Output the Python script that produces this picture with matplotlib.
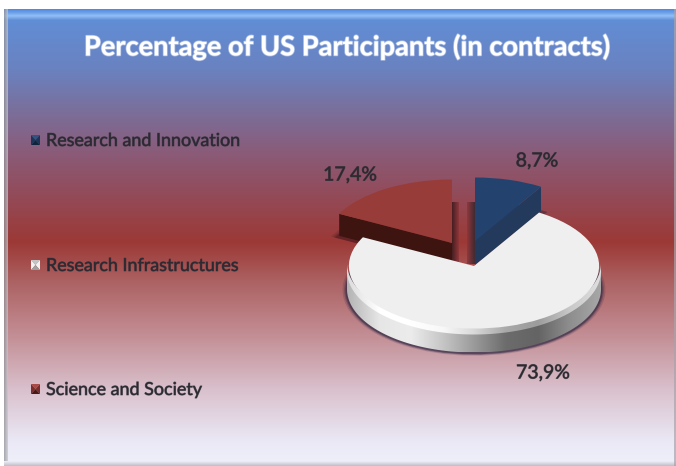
import numpy as np
import matplotlib
matplotlib.use('Agg')
import matplotlib.pyplot as plt
from matplotlib.colors import LinearSegmentedColormap
from matplotlib.patches import Polygon, Rectangle
import matplotlib.patheffects as pe

W, H = 676, 466

# chart data
title = "Percentage of US Participants (in contracts)"
categories = ["Research and Innovation", "Research Infrastructures", "Science and Society"]
values = [8.7, 73.9, 17.4]
value_labels = ["8,7%", "73,9%", "17,4%"]

plt.rcParams['font.family'] = ['Lato', 'DejaVu Sans']

fig = plt.figure(figsize=(W / 100, H / 100), dpi=100, facecolor='white')

# whole figure axes in pixels, y going down
bg = fig.add_axes([0, 0, 1, 1])
bg.set_xlim(0, W)
bg.set_ylim(H, 0)
bg.axis('off')


def vgrad(ax, extent, stops, zorder=1, clip=None, horizontal=False, alpha=None):
    cmap = LinearSegmentedColormap.from_list('g', stops)
    g = np.linspace(0, 1, 256)
    g = g.reshape(1, -1) if horizontal else g.reshape(-1, 1)
    im = ax.imshow(g, cmap=cmap, vmin=0, vmax=1, extent=extent, aspect='auto',
                   zorder=zorder, origin='upper' if not horizontal else 'lower', alpha=alpha,
                   interpolation='bilinear')
    if clip is not None:
        im.set_clip_path(clip)
    return im


# background panel
y0, y1 = 9, 466
stops = [(0, '#5f90da'), (0.13, '#6a82c0'), (0.22, '#7a6f9c'), (0.32, '#8b5a76'),
         (0.51, '#9c3936'), (0.60, '#ad6364'), (0.72, '#c49097'), (0.84, '#dac3cf'),
         (0.95, '#ebe9f6'), (1, '#eef0fa')]
vgrad(bg, (4, W, y1, y0), stops, zorder=1)
# bevel
vgrad(bg, (4, W, 20, 9), [(0, '#4f86de'), (0.35, '#6ea3ea'), (0.62, '#93c0f6'), (1, '#5f90da')], zorder=2)
vgrad(bg, (4, 8, y1, y0), ['#8f8f95', '#c9c9d0'], zorder=3, horizontal=True, alpha=0.75)
vgrad(bg, (4, W, 466, 461), ['#eef0fa', '#bdbdc6'], zorder=3)
bg.add_patch(Rectangle((674, 9), 2, 457, color='#a9a4ab', alpha=0.7, zorder=3, lw=0))

# pie axes: one data unit is one pie radius
RX, RY = 127.0, 63.5
DEPTH = 24.0
ax = fig.add_axes([0, 0, 1, 1], facecolor='none')


def to_data(px, py):
    return px / RX, (H - py) / RY


def pix(n):
    return n / RY


# top surface centre of each slice, in pixels
centers = {0: (475, 241), 1: (474, 267), 2: (452, 243)}
top_colors = ['#23436e', '#efefef', '#983c39']
angles = 90 - np.concatenate([[0], np.cumsum(values)]) * 3.6


def slice_wedge(i, center, color, radius=1.0, zorder=5, alpha=None):
    cols = [color if j == i else 'none' for j in range(len(values))]
    wedges, _ = ax.pie(values, startangle=90, counterclock=False, center=center,
                       radius=radius, colors=cols, wedgeprops={'lw': 0, 'zorder': zorder, 'alpha': alpha})
    for j, w in enumerate(wedges):
        w.set_visible(j == i)
    return wedges[i]


def edge_pt(i, center, ang):
    a = np.deg2rad(ang)
    return center[0] + np.cos(a), center[1] + np.sin(a)


# soft shadows in the gap between the two pulled slices
vgrad(bg, (452, 459, 264, 202), ['#35181c', '#8f3639'], zorder=4, horizontal=True, alpha=0.85)
vgrad(bg, (467, 475, 264, 202), ['#8f3639', '#2f2630'], zorder=4, horizontal=True, alpha=0.85)

# blue slice
c = to_data(*centers[0])
d = pix(DEPTH)
slice_wedge(0, (c[0] + 0.05, c[1] - d * 1.05), '#3a2a3a', zorder=4, alpha=0.55)
ex, ey = edge_pt(0, c, angles[1])
ax.add_patch(Polygon([c, (ex, ey), (ex, ey - d), (c[0], c[1] - d)], color='#233a5c', lw=0, zorder=5))
slice_wedge(0, (c[0], c[1] - d), '#233a5c', zorder=4.5)
slice_wedge(0, c, top_colors[0], zorder=6)

# red slice
c = to_data(*centers[2])
d = pix(DEPTH - 2)
for grow, a in [(0.05, 0.2), (0.03, 0.3), (0.015, 0.45)]:
    slice_wedge(2, (c[0] - 0.02, c[1] - d * 1.1), '#4a1a20', radius=1 + grow, zorder=4, alpha=a)
ex, ey = edge_pt(2, c, angles[2])
ax.add_patch(Polygon([c, (ex, ey), (ex, ey - d), (c[0], c[1] - d)], color='#3d1410', lw=0, zorder=5))
slice_wedge(2, c, top_colors[2], zorder=6)

# white slice: shadow, rim with a horizontal shading, bevel, top
c = to_data(*centers[1])
d = pix(DEPTH - 2)
for grow, a in [(0.035, 0.18), (0.022, 0.3), (0.012, 0.5)]:
    slice_wedge(1, (c[0], c[1] - d - pix(1)), '#2c2440', radius=1 + grow, zorder=7, alpha=a)

t = np.deg2rad(np.linspace(180, 360, 200))
ex = c[0] + np.cos(t)
ey = c[1] + np.sin(t)
band = np.r_[np.c_[ex, ey - d], np.c_[ex, ey][::-1]]
band_clip = Polygon(band, transform=ax.transData, lw=0, fc='none')
ax.add_patch(band_clip)
side = ['#b4b4b4', '#e6e6e6', '#ececec', '#c6c6c6', '#9a9a9a', '#6c6c6c', '#646464', '#8e8e8e', '#a8a8a8']
vgrad(ax, (c[0] - 1, c[0] + 1, c[1] - d - 1, c[1] + 1), side, zorder=8, clip=band_clip, horizontal=True)

b = pix(4)
bevel = np.r_[np.c_[ex, ey - b], np.c_[ex, ey + b][::-1]]
bevel_clip = Polygon(bevel, transform=ax.transData, lw=0, fc='none')
ax.add_patch(bevel_clip)
vgrad(ax, (c[0] - 1, c[0] + 1, c[1] - d - 1, c[1] + 1),
      ['#dcdcdc', '#ffffff', '#ffffff', '#f8f8f8', '#d8d8d8', '#a8a8a8', '#9c9c9c', '#c8c8c8', '#e0e0e0'],
      zorder=9, clip=bevel_clip, horizontal=True)
slice_wedge(1, (c[0], c[1] + pix(1)), top_colors[1], radius=0.985, zorder=10)

ax.set_aspect('auto')
ax.set_xlim(0, W / RX)
ax.set_ylim(0, H / RY)
ax.axis('off')

# texts and legend go on top
top = fig.add_axes([0, 0, 1, 1], facecolor='none')
top.set_xlim(0, W)
top.set_ylim(H, 0)
top.axis('off')

top.text(346.5, 47, title, color='white', fontsize=19.6, fontweight='bold', ha='center', va='center',
         path_effects=[pe.withStroke(linewidth=1.2, foreground='#e8eefa', alpha=0.5)])

soft = [pe.withStroke(linewidth=0.7, foreground='#2a2a30', alpha=0.55)]
label_pos = [(537, 161), (543, 373), (350, 175)]
for lab, (x, y) in zip(value_labels, label_pos):
    top.text(x, y, lab, color='#2a2a30', fontsize=14, ha='center', va='center', path_effects=soft)

legend_y = [140, 265, 389]
legend_cols = [('#1a3558', '#2f5482', '#10233d'),
               ('#f2f2f2', '#c4c4c4', '#a0a0a0'),
               ('#7c2b2a', '#a84a48', '#4c1615')]
for name, y, (mid, light, dark) in zip(categories, legend_y, legend_cols):
    x0, x1, t0, t1 = 31, 40, y - 5, y + 5
    xm, ym = (x0 + x1) / 2, y
    top.add_patch(Polygon([(x0, t0), (x1, t0), (xm, ym)], fc=light, lw=0))
    top.add_patch(Polygon([(x0, t0), (x0, t1), (xm, ym)], fc=mid, lw=0))
    top.add_patch(Polygon([(x1, t0), (x1, t1), (xm, ym)], fc=mid, lw=0))
    top.add_patch(Polygon([(x0, t1), (x1, t1), (xm, ym)], fc=dark, lw=0))
    top.text(46, y + 1, name, color='#2b2a33', fontsize=12.9, ha='left', va='center', path_effects=soft)

fig.savefig('out.png', dpi=100)
